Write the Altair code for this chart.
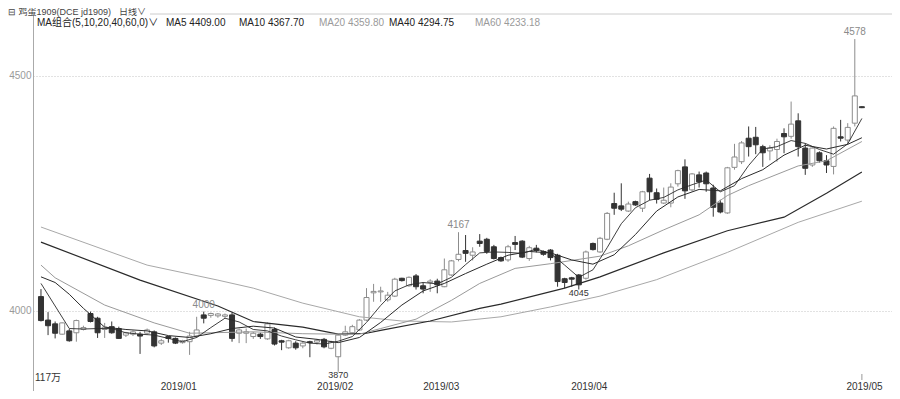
import json
import altair as alt
import pandas as pd

# ---------------- candle data (daily, jd1909) ----------------
opens = [4030, 3980, 3972, 3950, 3957, 3953, 3960, 3994, 3984, 3960,
         3966, 3962, 3948, 3950, 3950, 3952, 3955, 3931, 3945, 3941,
         3932, 3934, 3946, 3991, 3990, 3989, 3988, 3991, 3952, 3952,
         3945, 3950, 3940, 3960, 3936, 3921, 3931, 3925, 3934, 3933,
         3939, 3920, 3902, 3948, 3953, 3959, 3980, 4038, 4040, 4023,
         4031, 4069, 4053, 4074, 4053, 4060, 4063, 4051, 4076, 4109,
         4128, 4118, 4148, 4152, 4136, 4113, 4108, 4145, 4148, 4111,
         4133, 4126, 4129, 4118, 4068, 4070, 4076, 4069, 4143, 4125,
         4152, 4228, 4223, 4212, 4232, 4218, 4282, 4251, 4229, 4229,
         4270, 4306, 4257, 4289, 4293, 4261, 4229, 4208, 4305, 4317,
         4367, 4369, 4349, 4340, 4343, 4377, 4371, 4404, 4346, 4310,
         4336, 4319, 4307, 4370, 4363, 4399, 4434]
highs = [4046, 3997, 3977, 3975, 3961, 3981, 3968, 3998, 3987, 3974,
         3977, 3966, 3955, 3958, 3955, 3962, 3958, 3940, 3946, 3943,
         3938, 3955, 3987, 3998, 3996, 3995, 3994, 3996, 3962, 3962,
         3955, 3953, 3975, 3964, 3938, 3938, 3935, 3934, 3936, 3940,
         3942, 3936, 3950, 3968, 3970, 3982, 4048, 4057, 4051, 4040,
         4070, 4070, 4073, 4078, 4060, 4067, 4068, 4111, 4108, 4167,
         4161, 4135, 4163, 4155, 4140, 4115, 4140, 4159, 4150, 4138,
         4140, 4128, 4131, 4121, 4070, 4072, 4078, 4128, 4145, 4157,
         4210, 4251, 4271, 4232, 4234, 4255, 4291, 4260, 4262, 4271,
         4300, 4322, 4293, 4296, 4296, 4268, 4236, 4306, 4355, 4361,
         4392, 4391, 4353, 4352, 4366, 4388, 4445, 4420, 4356, 4350,
         4339, 4331, 4392, 4406, 4399, 4578, 4435]
lows = [3977, 3948, 3941, 3949, 3934, 3934, 3958, 3975, 3942, 3942,
        3951, 3940, 3944, 3946, 3908, 3949, 3922, 3927, 3932, 3929,
        3930, 3906, 3942, 3973, 3985, 3985, 3984, 3934, 3931, 3931,
        3940, 3940, 3938, 3926, 3916, 3919, 3917, 3920, 3901, 3928,
        3920, 3918, 3870, 3946, 3950, 3957, 3978, 4019, 4019, 4019,
        4029, 4062, 4051, 4045, 4037, 4040, 4037, 4050, 4074, 4105,
        4104, 4107, 4136, 4121, 4109, 4104, 4104, 4129, 4112, 4106,
        4124, 4117, 4107, 4051, 4048, 4051, 4045, 4066, 4128, 4123,
        4150, 4204, 4212, 4210, 4223, 4210, 4235, 4228, 4227, 4220,
        4264, 4238, 4254, 4262, 4253, 4200, 4207, 4206, 4300, 4312,
        4328, 4333, 4306, 4320, 4317, 4335, 4366, 4328, 4289, 4306,
        4315, 4293, 4290, 4360, 4353, 4392, 4431]
closes = [3979, 3968, 3952, 3974, 3936, 3979, 3964, 3977, 3953, 3965,
          3953, 3941, 3953, 3955, 3946, 3959, 3925, 3936, 3941, 3931,
          3936, 3946, 3959, 3984, 3994, 3993, 3991, 3941, 3959, 3955,
          3952, 3945, 3972, 3929, 3933, 3936, 3921, 3931, 3932, 3937,
          3923, 3934, 3948, 3955, 3966, 3980, 4028, 4041, 4042, 4033,
          4067, 4064, 4071, 4051, 4046, 4063, 4055, 4087, 4106, 4120,
          4122, 4125, 4143, 4126, 4111, 4106, 4136, 4141, 4114, 4134,
          4128, 4120, 4113, 4062, 4060, 4067, 4055, 4125, 4130, 4154,
          4207, 4218, 4216, 4227, 4225, 4253, 4253, 4237, 4235, 4263,
          4298, 4255, 4291, 4274, 4270, 4220, 4210, 4304, 4327, 4357,
          4349, 4353, 4336, 4346, 4360, 4370, 4397, 4349, 4303, 4346,
          4319, 4310, 4388, 4367, 4390, 4457, 4432]

# ---------------- moving averages ----------------
ma5_i = [0, 2, 4, 6, 8, 10, 12, 14, 16, 18, 20, 22, 24, 26, 28, 30, 32, 34, 36, 38,
         40, 42, 44, 46, 48, 50, 52, 54, 56, 58, 60, 62, 64, 66, 68, 70, 72, 74, 76, 78,
         80, 82, 84, 86, 88, 90, 92, 94, 96, 98, 100, 102, 104, 106, 108, 110, 112, 114, 116]
ma5_v = [4058, 4010, 3962, 3961, 3962, 3962, 3953, 3950, 3948, 3941, 3934, 3943, 3964, 3984,
         3976, 3960, 3957, 3946, 3938, 3931, 3929, 3935, 3945, 3975, 4011, 4042, 4055, 4060,
         4057, 4071, 4098, 4123, 4125, 4124, 4122, 4131, 4122, 4097, 4071, 4087, 4134, 4185,
         4219, 4235, 4241, 4257, 4268, 4278, 4253, 4266, 4309, 4344, 4349, 4362, 4356, 4343,
         4333, 4355, 4409]
ma10_i = [0, 2, 4, 6, 9, 12, 15, 18, 21, 24, 27, 30, 33, 36, 39, 42, 45, 48, 51, 54, 57,
          60, 63, 66, 69, 72, 75, 78, 81, 84, 87, 90, 93, 96, 99, 102, 105, 108, 111, 114, 116]
ma10_v = [4072, 4060, 4035, 4005, 3965, 3960, 3957, 3947, 3943, 3951, 3962, 3967, 3963, 3944,
          3939, 3932, 3943, 3975, 4012, 4042, 4058, 4079, 4099, 4118, 4126, 4123, 4108, 4099,
          4119, 4162, 4212, 4242, 4258, 4255, 4281, 4300, 4331, 4352, 4344, 4354, 4368]
ma20_i = [0, 2, 9, 16, 21, 30, 37, 42, 45, 48, 53, 58, 62, 67, 72, 79, 83, 88, 93, 97, 100,
          107, 111, 116]
ma20_v = [4097, 4070, 4012, 3974, 3952, 3955, 3951, 3950, 3950, 3962, 3982, 4022, 4058, 4090,
          4100, 4116, 4138, 4172, 4204, 4245, 4266, 4308, 4319, 4360]
ma40_i = [0, 14, 25, 30, 37, 42, 46, 48, 55, 62, 65, 74, 79, 88, 97, 105, 111, 116]
ma40_v = [4146, 4065, 4010, 3977, 3965, 3950, 3952, 3958, 3978, 4005, 4014, 4048, 4072, 4123,
          4170, 4199, 4250, 4295]
ma60_i = [0, 15, 25, 30, 37, 45, 51, 58, 65, 72, 79, 87, 97, 107, 116]
ma60_v = [4178, 4097, 4065, 4048, 4016, 3987, 3978, 3976, 3987, 4008, 4031, 4066, 4124, 4188, 4233]

# ---------------- axis ticks / labels ----------------
y_ticks = [4000, 4500]
date_ticks = [19.4, 41.5, 56.5, 77.4, 116.3]
date_labels = ["2019/01", "2019/02", "2019/03", "2019/04", "2019/05"]
cursor_tick = [116.0]

hi_i = [23, 59, 115]
hi_p = [3998, 4167, 4578]
hi_t = ["4000", "4167", "4578"]
lo_i = [42, 76]
lo_p = [3870, 4045]
lo_t = ["3870", "4045"]

header_row1 = ["⊟ 鸡蛋1909(DCE jd1909)", "日线∨"]
header_row2 = ["MA组合(5,10,20,40,60,0)∨", "MA5 4409.00", "MA10 4367.70",
               "MA20 4359.80", "MA40 4294.75", "MA60 4233.18"]
volume_text = "117万"

# ---------------- build ----------------
W, H = 859, 377
FONT = "Liberation Sans, Noto Sans CJK SC"
DOWN = "#333333"
UP_LINE = "#8c8c8c"

n = len(opens)
candles = pd.DataFrame({"i": list(range(n)), "open": opens, "high": highs,
                        "low": lows, "close": closes})
candles["dir"] = ["up" if c > o else "down" for o, c in zip(opens, closes)]

xs = alt.Scale(domain=[-0.42, 119.55], nice=False, zero=False)
ys = alt.Scale(domain=[3829.1, 4631.3], nice=False, zero=False)

label_expr = f"{json.dumps(date_labels)}[indexof({json.dumps(date_ticks)}, datum.value)]"
x_axis = alt.Axis(values=date_ticks, labelExpr=label_expr, title=None, domain=False,
                  ticks=False, grid=False, labelColor="#333333", labelFontSize=10,
                  labelFont=FONT, offset=-10, labelPadding=0, labelOverlap=False,
                  labelFlush=False, labelBound=False)
y_axis = alt.Axis(values=y_ticks, format="d", title=None, ticks=False, domain=True,
                  domainColor="#aaaaaa", grid=True, gridColor="#c4c4c4", gridDash=[1, 2],
                  labelColor="#9a9a9a", labelFontSize=10, labelPadding=2, labelFont=FONT)


def X(field):
    return alt.X(field, scale=xs, axis=x_axis)


def Y(field):
    return alt.Y(field, scale=ys, axis=y_axis)


stroke_scale = alt.Scale(domain=["up", "down"], range=[UP_LINE, DOWN])

wicks = alt.Chart(candles).mark_rule(strokeWidth=1).encode(
    x=X("i:Q"), y=Y("low:Q"), y2="high:Q",
    stroke=alt.Stroke("dir:N", scale=stroke_scale, legend=None),
)
bodies = alt.Chart(candles).mark_bar(size=5, strokeWidth=1).encode(
    x=X("i:Q"), y=Y("open:Q"), y2="close:Q",
    fill=alt.Fill("dir:N", scale=alt.Scale(domain=["up", "down"], range=["#ffffff", DOWN]),
                  legend=None),
    stroke=alt.Stroke("dir:N", scale=stroke_scale, legend=None),
)


def ma_line(idx, vals, color, width):
    d = pd.DataFrame({"i": idx, "v": vals})
    return alt.Chart(d).mark_line(color=color, strokeWidth=width).encode(
        x=X("i:Q"), y=Y("v:Q"))


lines = [
    ma_line(ma60_i, ma60_v, "#a8a8a8", 1),
    ma_line(ma40_i, ma40_v, "#2a2a2a", 1.2),
    ma_line(ma20_i, ma20_v, "#9a9a9a", 1),
    ma_line(ma10_i, ma10_v, "#2a2a2a", 1),
    ma_line(ma5_i, ma5_v, "#2a2a2a", 0.9),
]

hi_df = pd.DataFrame({"i": hi_i, "p": hi_p, "t": hi_t})
lo_df = pd.DataFrame({"i": lo_i, "p": lo_p, "t": lo_t})
hi_labels = alt.Chart(hi_df).mark_text(baseline="bottom", dy=-2, color="#8a8a8a",
                                       fontSize=10, font=FONT).encode(
    x=X("i:Q"), y=Y("p:Q"), text="t:N")
lo_labels = alt.Chart(lo_df).mark_text(baseline="top", dy=-1, color="#333333",
                                       fontSize=9, font=FONT).encode(
    x=X("i:Q"), y=Y("p:Q"), text="t:N")

cursor = alt.Chart(pd.DataFrame({"i": cursor_tick})).mark_rule(
    color="#999999", strokeWidth=1).encode(
    x=X("i:Q"), y=alt.value(H - 17), y2=alt.value(H - 11))


def htext(s, x, y, color, baseline="middle", size=10):
    return alt.Chart(pd.DataFrame({"t": [s]})).mark_text(
        align="left", baseline=baseline, color=color, fontSize=size, font=FONT
    ).encode(x=alt.value(x), y=alt.value(y), text="t:N")


row2_x = [4, 133, 206, 286, 356, 442]
row2_c = ["#222222", "#222222", "#222222", "#9a9a9a", "#222222", "#9a9a9a"]
header = [
    htext(header_row1[0], -25, -6, "#444444", baseline="top", size=9),
    htext(header_row1[1], 86, -6, "#444444", baseline="top", size=9),
]
header += [htext(t, x, 9, c) for t, x, c in zip(header_row2, row2_x, row2_c)]
header.append(htext(volume_text, 2, H - 13, "#333333"))

top_line = alt.Chart(pd.DataFrame({"a": [0]})).mark_rule(color="#cccccc", strokeWidth=1).encode(
    x=alt.value(117), x2=alt.value(W), y=alt.value(0))

chart = alt.layer(wicks, bodies, *lines, hi_labels, lo_labels, cursor, top_line,
                  *header).properties(
    width=W, height=H,
    padding={"left": 25, "top": 6, "right": 0, "bottom": 0},
    autosize=alt.AutoSizeParams(type="none"),
    background="white",
).configure_view(stroke=None)

chart.save("out.html", embed_options={"renderer": "svg", "actions": False})
